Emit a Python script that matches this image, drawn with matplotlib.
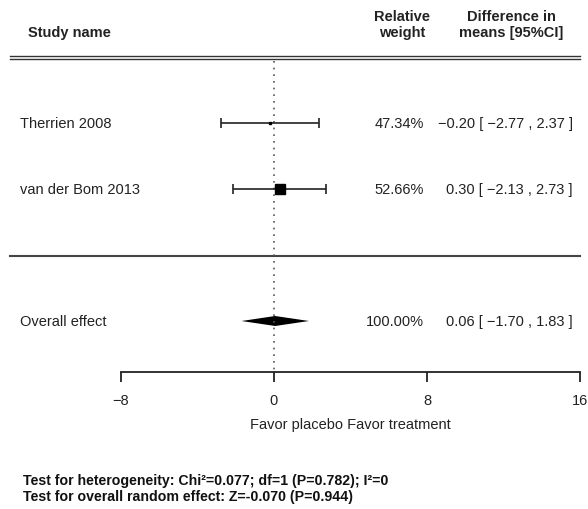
import matplotlib
matplotlib.use("Agg")
import matplotlib.pyplot as plt
from matplotlib.patches import Polygon
from matplotlib.transforms import blended_transform_factory

plt.rcParams['font.family'] = ['Liberation Sans', 'DejaVu Sans']

# data
studies = ['Therrien 2008', 'van der Bom 2013']
weights = [47.34, 52.66]
means = [-0.20, 0.30]
lower = [-2.77, -2.13]
upper = [2.37, 2.73]
overall_label = 'Overall effect'
overall_weight = 100.00
overall_mean = 0.06
overall_lower = -1.70
overall_upper = 1.83
xticks = [-8, 0, 8, 16]
footer = ['Test for heterogeneity: Chi\u00b2=0.077; df=1 (P=0.782); I\u00b2=0',
          'Test for overall random effect: Z=-0.070 (P=0.944)']

W, H = 588, 510
fig = plt.figure(figsize=(W / 100, H / 100), dpi=100)

# plot area: x from -8..16, y in pixel rows (top=58, bottom=373)
x0, x1, ytop, ybot = 121, 580, 58, 373
ax = fig.add_axes([x0 / W, 1 - ybot / H, (x1 - x0) / W, (ybot - ytop) / H])
ax.set_xlim(xticks[0], xticks[-1])
ax.set_ylim(ybot, ytop)
for s in ['left', 'right', 'top']:
    ax.spines[s].set_visible(False)
ax.spines['bottom'].set_linewidth(1.3)
ax.spines['bottom'].set_color('#222222')
ax.set_yticks([])
ax.set_xticks(xticks)
ax.set_xticklabels(['\u2212' + str(-t) if t < 0 else str(t) for t in xticks])
ax.tick_params(axis='x', direction='out', length=7, width=1.3, color='#222222',
               labelsize=10.5, labelcolor='#222222', pad=8)
ax.set_xlabel('Favor placebo Favor treatment', fontsize=10.5, color='#222222',
              labelpad=7)

# x in figure pixels, y in row pixels
tr = blended_transform_factory(fig.transFigure, ax.transData)


def px(x):
    return x / W


txt = dict(transform=tr, fontsize=10.5, color='#222222', va='center',
           clip_on=False)

# header
ax.text(px(28), 33, 'Study name', fontweight='bold', ha='left', **txt)
ax.text(px(402), 25, 'Relative\nweight', fontweight='bold', ha='center',
        linespacing=1.25, **txt)
ax.text(px(511), 25, 'Difference in\nmeans [95%CI]', fontweight='bold',
        ha='center', linespacing=1.25, **txt)

# separators
for yy in [57, 60]:
    ax.plot([px(10), px(580)], [yy, yy], transform=tr, color='#333333',
            lw=1.0, clip_on=False)
ax.plot([px(10), px(580)], [257, 257], transform=tr, color='#444444',
        lw=1.5, clip_on=False)

# zero line
ax.plot([0, 0], [62, ybot], ls=(0, (1, 3)), color='#555555', lw=1.2)


def fmt(v):
    return ('\u2212' if v < 0 else '') + '%.2f' % abs(v)


rows_y = [124, 190]
wmin, wmax = min(weights), max(weights)
for name, w, m, lo, hi, yy in zip(studies, weights, means, lower, upper, rows_y):
    ms = 2.5 + 7.5 * (w - wmin) / (wmax - wmin)
    ax.errorbar(m, yy, xerr=[[m - lo], [hi - m]], fmt='none', ecolor='#222222',
                elinewidth=1.2, capsize=3.5, capthick=1.2)
    ax.plot(m, yy, marker='s', ms=ms * 0.75, color='black', mec='black')
    ax.text(px(20), yy, name, ha='left', **txt)
    ax.text(px(424), yy, '%.2f%%' % w, ha='right', **txt)
    ax.text(px(573), yy, '%s [ %s , %s ]' % (fmt(m), fmt(lo), fmt(hi)),
            ha='right', **txt)

# overall diamond
oy = 322
ax.add_patch(Polygon([[overall_lower, oy], [overall_mean, oy - 5],
                      [overall_upper, oy], [overall_mean, oy + 5]],
                     closed=True, color='black', lw=0))
ax.text(px(20), oy, overall_label, ha='left', **txt)
ax.text(px(424), oy, '%.2f%%' % overall_weight, ha='right', **txt)
ax.text(px(573), oy, '%s [ %s , %s ]' % (fmt(overall_mean), fmt(overall_lower),
                                         fmt(overall_upper)), ha='right', **txt)

# footer
for i, line in enumerate(footer):
    ax.text(px(23), 481 + 16 * i, line, ha='left', fontweight='bold',
            transform=tr, fontsize=10.2, color='#111111', va='center',
            clip_on=False)

fig.savefig('out.png', dpi=100)
